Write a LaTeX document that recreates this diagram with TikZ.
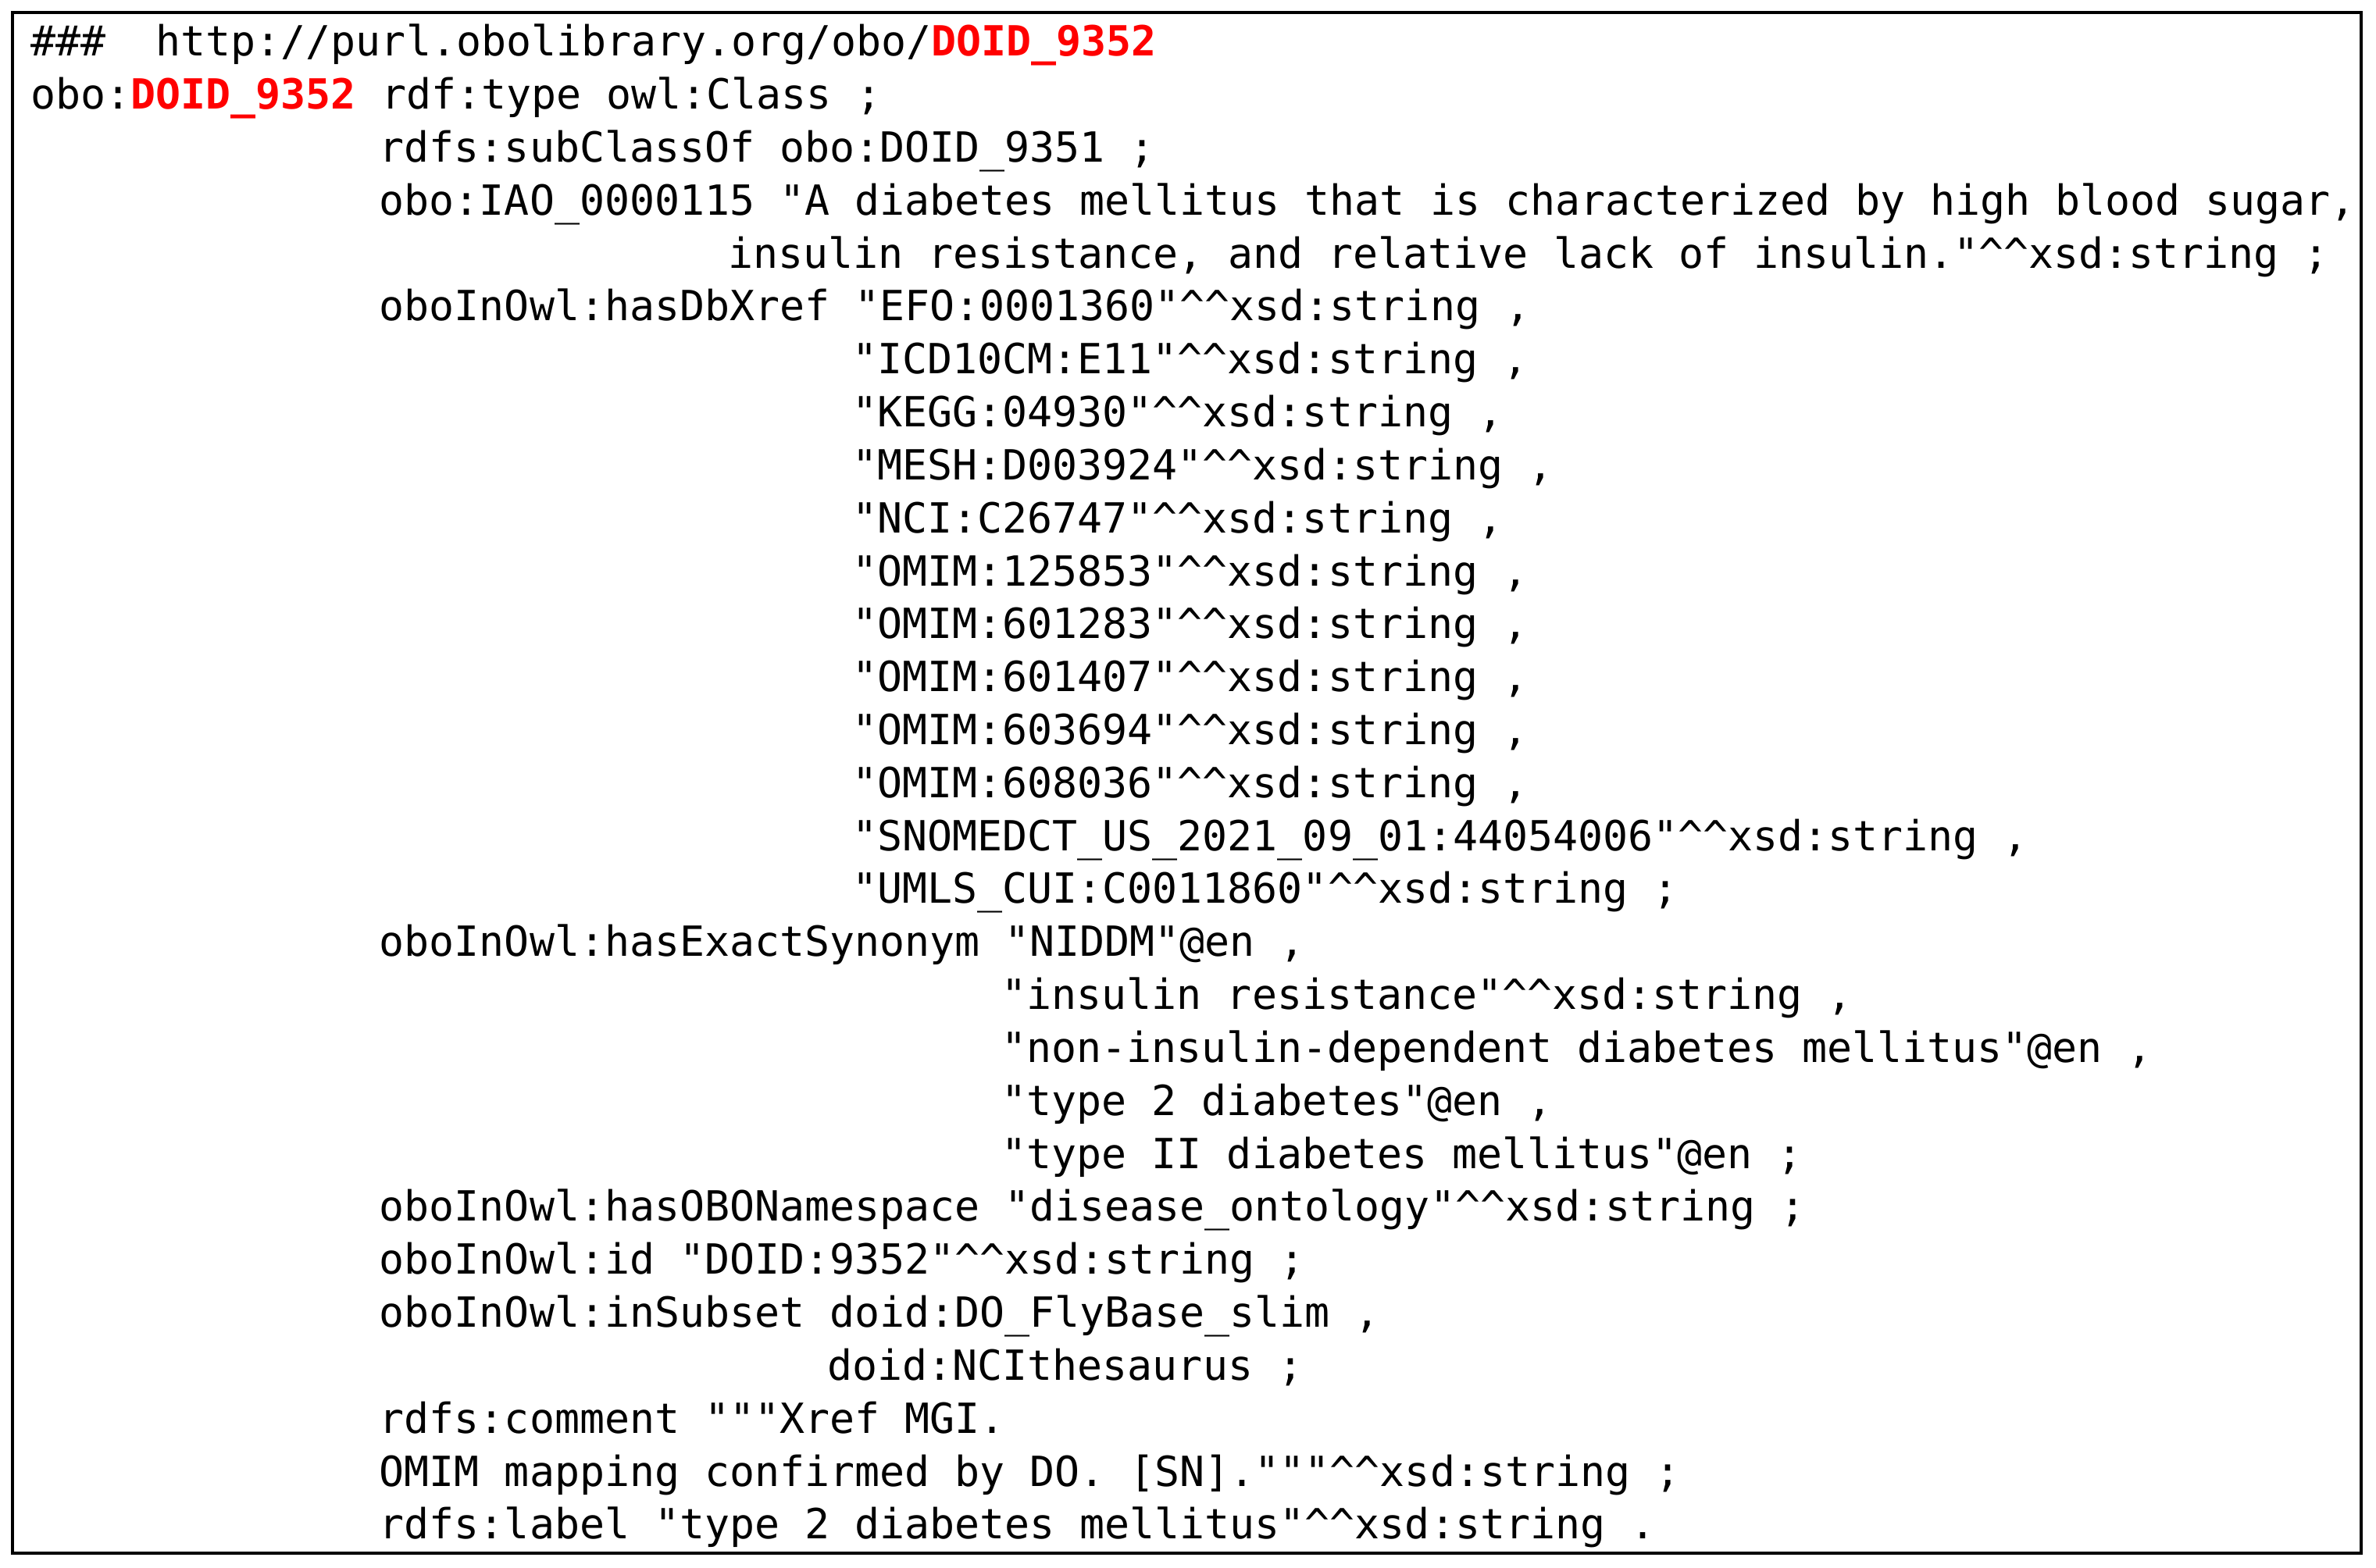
\documentclass[tikz,border=0pt]{standalone}
\usepackage{fontspec}
\newfontfamily\mono{DejaVu Sans Mono}
\newcommand{\cc}{\textasciicircum\textasciicircum}
\newcommand{\rd}[1]{\textcolor{red}{\bfseries #1}}
\newcommand{\tl}[3]{\node[ln] (r#2) at ({20+#1*16.43},{37+(#2-1)*34.96}) {#3};}
\begin{document}
\begin{tikzpicture}[x=0.485pt,y=-0.485pt,
  ln/.style={anchor=base west,inner sep=0pt,font=\mono\fontsize{13.3pt}{16pt}\selectfont}]
\useasboundingbox (0,0) rectangle (1568,1035);
\draw[line width=1pt] (8,8) rectangle (1558,1025);
\tl{0}{1}{\#\#\#~~http://purl.obolibrary.org/obo/\rd{DOID\_9352}}
\tl{0}{2}{obo:\rd{DOID\_9352} rdf:type owl:Class ;}
\tl{14}{3}{rdfs:subClassOf obo:DOID\_9351 ;}
\tl{14}{4}{obo:IAO\_0000115 "A diabetes mellitus that is characterized by high blood sugar,}
\tl{28}{5}{insulin resistance, and relative lack of insulin."\cc xsd:string ;}
\tl{14}{6}{oboInOwl:hasDbXref "EFO:0001360"\cc xsd:string ,}
\tl{33}{7}{"ICD10CM:E11"\cc xsd:string ,}
\tl{33}{8}{"KEGG:04930"\cc xsd:string ,}
\tl{33}{9}{"MESH:D003924"\cc xsd:string ,}
\tl{33}{10}{"NCI:C26747"\cc xsd:string ,}
\tl{33}{11}{"OMIM:125853"\cc xsd:string ,}
\tl{33}{12}{"OMIM:601283"\cc xsd:string ,}
\tl{33}{13}{"OMIM:601407"\cc xsd:string ,}
\tl{33}{14}{"OMIM:603694"\cc xsd:string ,}
\tl{33}{15}{"OMIM:608036"\cc xsd:string ,}
\tl{33}{16}{"SNOMEDCT\_US\_2021\_09\_01:44054006"\cc xsd:string ,}
\tl{33}{17}{"UMLS\_CUI:C0011860"\cc xsd:string ;}
\tl{14}{18}{oboInOwl:hasExactSynonym "NIDDM"@en ,}
\tl{39}{19}{"insulin resistance"\cc xsd:string ,}
\tl{39}{20}{"non-insulin-dependent diabetes mellitus"@en ,}
\tl{39}{21}{"type 2 diabetes"@en ,}
\tl{39}{22}{"type II diabetes mellitus"@en ;}
\tl{14}{23}{oboInOwl:hasOBONamespace "disease\_ontology"\cc xsd:string ;}
\tl{14}{24}{oboInOwl:id "DOID:9352"\cc xsd:string ;}
\tl{14}{25}{oboInOwl:inSubset doid:DO\_FlyBase\_slim ,}
\tl{32}{26}{doid:NCIthesaurus ;}
\tl{14}{27}{rdfs:comment """Xref MGI.}
\tl{14}{28}{OMIM mapping confirmed by DO. [SN]."""\cc xsd:string ;}
\tl{14}{29}{rdfs:label "type 2 diabetes mellitus"\cc xsd:string .}
\end{tikzpicture}
\end{document}
